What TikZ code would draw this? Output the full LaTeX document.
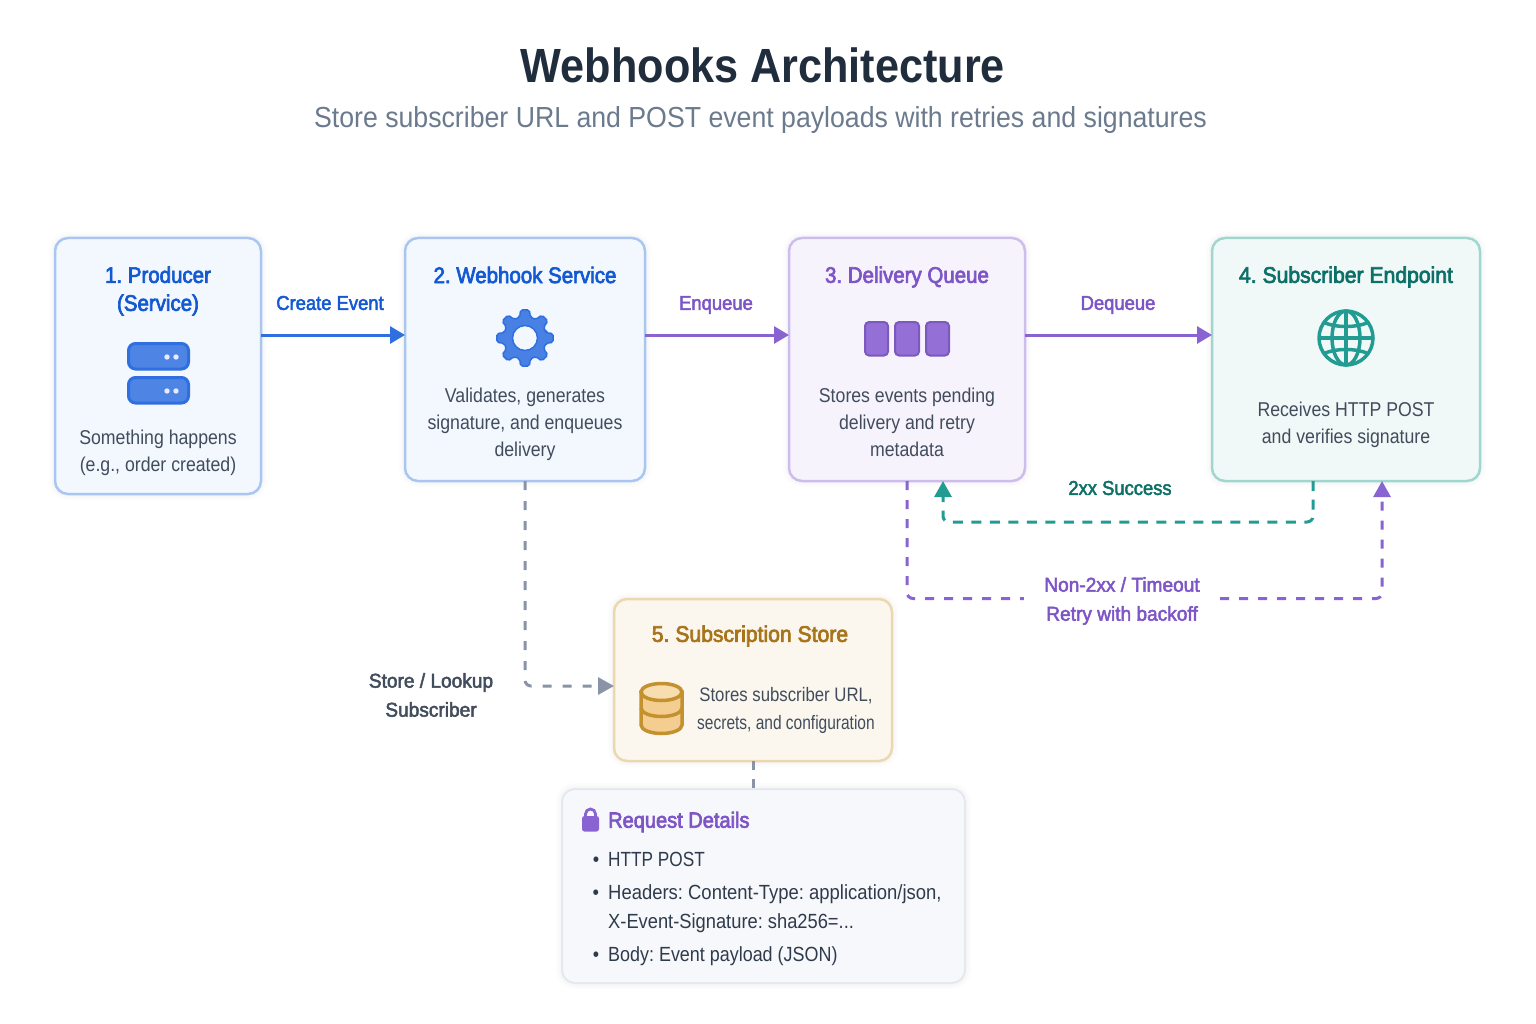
\documentclass[tikz,border=0pt]{standalone}
\usepackage{fontspec}
\setmainfont{Liberation Sans}
\newfontfamily\ftitle[FakeStretch=0.90]{Liberation Sans}
\newfontfamily\fsub[FakeStretch=0.92]{Liberation Sans}
\newfontfamily\fhead[FakeStretch=0.91,FakeBold=3]{Liberation Sans}
\newfontfamily\fheadw[FakeStretch=0.94,FakeBold=3]{Liberation Sans}
\newfontfamily\flabel[FakeStretch=0.92,FakeBold=2.4]{Liberation Sans}
\newfontfamily\flabelw[FakeStretch=0.955,FakeBold=2.4]{Liberation Sans}
\newfontfamily\fbody[FakeStretch=0.885]{Liberation Sans}
\newfontfamily\flist[FakeStretch=0.893]{Liberation Sans}
\newfontfamily\flistw[FakeStretch=0.90]{Liberation Sans}
\newfontfamily\flistn[FakeStretch=0.875]{Liberation Sans}
\newfontfamily\flistnn[FakeStretch=0.84]{Liberation Sans}
\newfontfamily\fnarrow[FakeStretch=0.86]{Liberation Sans}
\newfontfamily\fnarrowb[FakeStretch=0.795]{Liberation Sans}
\usetikzlibrary{arrows.meta,calc}
\definecolor{bluedk}{HTML}{1259D2}\definecolor{blueln}{HTML}{2F6FE0}\definecolor{bluebd}{HTML}{A9C6F3}\definecolor{bluebg}{HTML}{F3F7FE}
\definecolor{purpdk}{HTML}{7D55C7}\definecolor{purpln}{HTML}{8A63D2}\definecolor{purpbd}{HTML}{CDBCEE}\definecolor{purpbg}{HTML}{F7F3FD}
\definecolor{tealdk}{HTML}{0D7068}\definecolor{tealln}{HTML}{229C93}\definecolor{tealbd}{HTML}{A0D6CF}\definecolor{tealbg}{HTML}{F1F9F8}
\definecolor{ambrdk}{HTML}{A8741A}\definecolor{ambrln}{HTML}{C4912F}\definecolor{ambrbd}{HTML}{ECD8AF}\definecolor{ambrbg}{HTML}{FBF7EE}
\definecolor{grayln}{HTML}{8A94A6}\definecolor{graybd}{HTML}{E5E8EE}\definecolor{graybg}{HTML}{F7F8FB}
\definecolor{bodytx}{HTML}{414C5C}\definecolor{darktx}{HTML}{2F3B4C}\definecolor{titletx}{HTML}{1F2D3D}\definecolor{subtx}{HTML}{6B7A8D}
\tikzset{
  x=1pt,y=-1pt,
  card/.style={rounded corners=13pt,inner sep=0pt,outer sep=0pt,line width=2.5pt,
    preaction={draw=black,draw opacity=.012,line width=12pt},
    preaction={draw=black,draw opacity=.015,line width=7pt}},
  heading/.style={align=center,inner sep=0pt,font=\fhead\fontsize{22.5}{28}\selectfont},
  headingw/.style={align=center,inner sep=0pt,font=\fheadw\fontsize{22.5}{28}\selectfont},
  bodytext/.style={align=center,inner sep=0pt,text=bodytx,font=\fbody\fontsize{20}{27}\selectfont},
  flowlabel/.style={align=center,inner sep=0pt,font=\flabel\fontsize{20}{29}\selectfont},
  flowlabelw/.style={align=center,inner sep=0pt,font=\flabelw\fontsize{20}{29}\selectfont},
  listtext/.style={anchor=west,inner sep=0pt,text=darktx,font=\flist\fontsize{20.5}{27}\selectfont},
  flow/.style={line width=3pt,-{Triangle[length=15pt,width=17pt]}},
  dashline/.style={line width=3pt,rounded corners=6pt,dash pattern=on 10pt off 8.5pt},
  dasharrow/.style={dashline,-{Triangle[length=16pt,width=17pt]}},
}
\begin{document}
\frenchspacing
\begin{tikzpicture}
\useasboundingbox (0,0) rectangle (1536,1024);
\fill[white] (0,0) rectangle (1536,1024);
\node[inner sep=0pt,text=titletx,font=\ftitle\fontsize{48}{56}\selectfont\bfseries] (title) at (763,65) {Webhooks Architecture};
\node[inner sep=0pt,text=subtx,font=\fsub\fontsize{29}{34}\selectfont] (subtitle) at (760.5,120) {Store subscriber URL and POST event payloads with retries and signatures};
% cards
\node[card,draw=bluebd,fill=bluebg,minimum width=206pt,minimum height=256pt] (s1) at (158,366) {};
\node[card,draw=bluebd,fill=bluebg,minimum width=240pt,minimum height=243pt] (s2) at (525,359.5) {};
\node[card,draw=purpbd,fill=purpbg,minimum width=236pt,minimum height=243pt] (s3) at (907,359.5) {};
\node[card,draw=tealbd,fill=tealbg,minimum width=268pt,minimum height=243pt] (s4) at (1346,359.5) {};
\node[card,draw=ambrbd,fill=ambrbg,minimum width=278pt,minimum height=162pt] (s5) at (753,680) {};
\node[card,draw=graybd,fill=graybg,line width=2pt,minimum width=403pt,minimum height=194pt] (rd) at (763.5,886) {};
% coordinates
\coordinate (flowy) at (0,335);
\coordinate (okA) at (1313,522);
\coordinate (okB) at (943,522);
\coordinate (failA) at (907,598.5);
\coordinate (failB) at (1382,598.5);
\coordinate (lookA) at (525,686);
% main flow
\draw[flow,blueln] (s1.east |- flowy) -- (s2.west |- flowy);
\draw[flow,purpln] (s2.east |- flowy) -- (s3.west |- flowy);
\draw[flow,purpln] (s3.east |- flowy) -- (s4.west |- flowy);
\node[flowlabel,text=bluedk] (lcreate) at (330,303) {Create Event};
\node[flowlabel,text=purpdk] (lenq) at (716,305) {Enqueue};
\node[flowlabel,text=purpdk] (ldeq) at (1118,305) {Dequeue};
% return paths
\draw[dasharrow,tealln] (s4.south -| okA) -- (okA) -- (okB) -- (s3.south -| okB);
\node[flowlabel,text=tealdk] (lok) at (1120,488) {2xx Success};
\node[flowlabelw,text=purpdk,minimum width=196pt] (lfail) at (1122,601) {Non-2xx / Timeout\\Retry with backoff};
\draw[dashline,purpln,dash pattern=on 9pt off 10pt] (s3.south -| failA) -- (failA) -- (lfail.west |- failA);
\draw[dasharrow,purpln,dash pattern=on 9pt off 10pt] (lfail.east |- failB) -- (failB) -- (s4.south -| failB);
% store paths
\draw[dasharrow,grayln,dash pattern=on 9pt off 11pt] (s2.south -| lookA) -- (lookA) -- (s5.west |- lookA);
\draw[dashline,grayln,dash pattern=on 9pt off 9pt] (s5.south) -- (s5.south |- rd.north);
\node[flowlabelw,text=bodytx] (lstore) at (431,695) {Store / Lookup\\Subscriber};
% headings and body
\node[heading,text=bluedk] (h1) at (158,291) {1. Producer\\(Service)};
\node[heading,text=bluedk] (h2) at (525,275) {2. Webhook Service};
\node[heading,text=purpdk] (h3) at (907,277) {3. Delivery Queue};
\node[headingw,text=tealdk] (h4) at (1346,277) {4. Subscriber Endpoint};
\node[headingw,text=ambrdk] (h5) at (750,636) {5. Subscription Store};
\node[bodytext] (b1) at (158,452.5) {Something happens\\(e.g., order created)};
\node[bodytext] (b2) at (525,424) {Validates, generates\\signature, and enqueues\\delivery};
\node[bodytext] (b3) at (907,422) {Stores events pending\\delivery and retry\\metadata};
\node[bodytext] (b4) at (1346,425) {Receives HTTP POST\\and verifies signature};
\node[bodytext,font=\fnarrow\fontsize{19.5}{28}\selectfont] (b5) at (786,710.5) {Stores subscriber URL,\\\fnarrowb\fontsize{19.5}{28}\selectfont secrets, and configuration};
% request details
\node[anchor=west,inner sep=0pt,text=purpdk,font=\fhead\fontsize{22}{28}\selectfont] (rdh) at (608,822) {Request Details};
\node[listtext,font=\flistnn\fontsize{20.5}{27}\selectfont] (l1) at (608,859) {\llap{\flist •\hspace{9pt}}HTTP POST};
\node[listtext,font=\flistw\fontsize{20.5}{27}\selectfont] (l2) at (608,894) {\llap{•\hspace{9pt}}Headers: Content-Type: application/json,};
\node[listtext] (l3) at (608,923) {X-Event-Signature: sha256=...};
\node[listtext,font=\flistn\fontsize{20.5}{27}\selectfont] (l4) at (608,956) {\llap{•\hspace{9pt}}Body: Event payload (JSON)};
% server icon
\begin{scope}[draw=blueln,fill=blueln!85!white,line width=3pt,rounded corners=7pt]
\filldraw (128.5,343.5) rectangle (188.5,369);
\filldraw (128.5,377.5) rectangle (188.5,403);
\end{scope}
\fill[white!92!blue] (167,357) circle (2.7pt) (176,357) circle (2.7pt) (167,391) circle (2.7pt) (176,391) circle (2.7pt);
% gear icon
\coordinate (gearc) at (525,338);
\filldraw[fill=blueln!88!white,draw=blueln,line width=1.5pt,rounded corners=2pt]
  ($(gearc)+(-14:21.5)$)
  \foreach \g in {0,45,...,315}{ -- ($(gearc)+(\g-14:21.5)$) -- ($(gearc)+(\g-9:28.5)$) -- ($(gearc)+(\g+9:28.5)$) -- ($(gearc)+(\g+14:21.5)$)} -- cycle;
\filldraw[fill=bluebg,draw=blueln,line width=1.5pt] (gearc) circle (12.5pt);
% queue icon
\begin{scope}[draw=purpln!90!black,fill=purpln!92!white,line width=2pt,rounded corners=4pt]
\filldraw (865,322) rectangle (888,355.5);
\filldraw (895,322) rectangle (919,355.5);
\filldraw (926,322) rectangle (949,355.5);
\end{scope}
% globe icon
\begin{scope}[draw=tealln,line width=3.5pt,fill=none]
\draw (1346,338) circle (27pt);
\draw (1346,338) ellipse (14pt and 27pt);
\draw (1346,311) -- (1346,365);
\draw (1319,338) -- (1373,338);
\draw (1323,322) .. controls (1335,328) and (1357,328) .. (1369,322);
\draw (1323,354) .. controls (1335,348) and (1357,348) .. (1369,354);
\end{scope}
% database icon
\definecolor{dbbody}{HTML}{F4CE90}\definecolor{dbtop}{HTML}{F8DDAE}
\begin{scope}[draw=ambrln,line width=3.5pt]
\filldraw[fill=dbbody] (641,692) -- (641,725) arc[start angle=180,end angle=360,x radius=20.5pt,y radius=8.5pt] -- (682,692) -- cycle;
\filldraw[fill=dbtop] (661.5,692) ellipse (20.5pt and 8.5pt);
\draw (641,708) arc[start angle=180,end angle=360,x radius=20.5pt,y radius=8.5pt];
\end{scope}
% lock icon
\fill[purpln,rounded corners=2.5pt] (582,816) rectangle (599,831.5);
\draw[purpln,line width=2.8pt] (585.5,817) -- (585.5,814) arc[start angle=180,end angle=0,radius=5pt] -- (595.5,817);
\end{tikzpicture}
\end{document}
